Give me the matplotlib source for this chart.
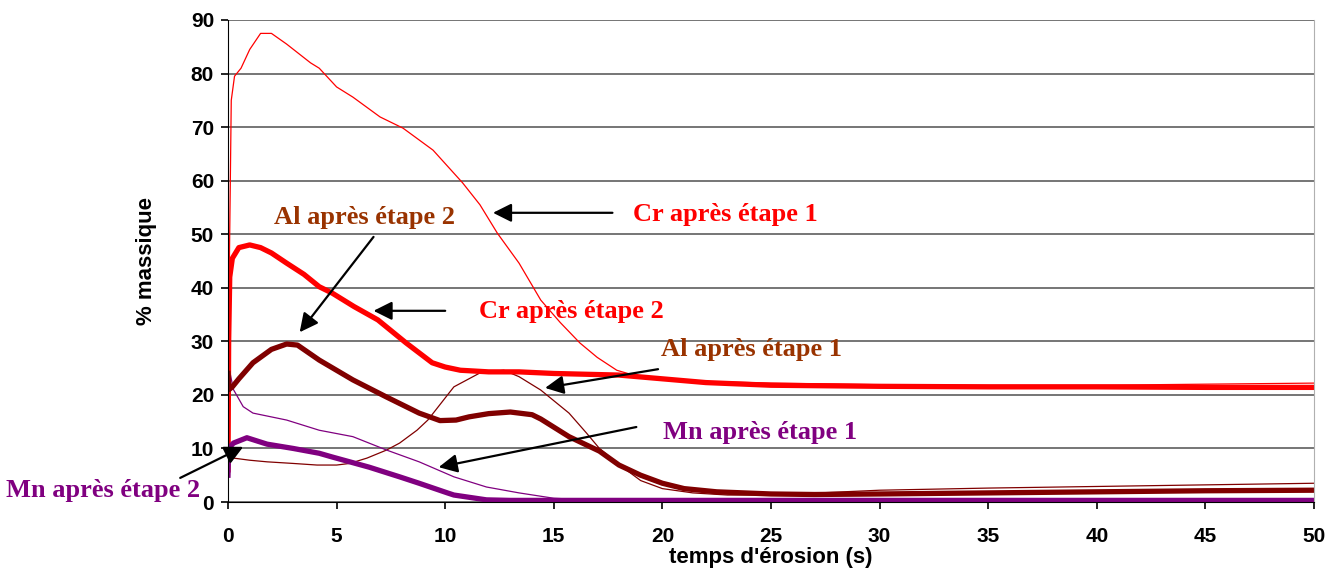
import numpy as np
import matplotlib.pyplot as plt

# courbes (temps en s, % massique)
cr1_x = [0, 0.05, 0.15, 0.3, 0.6, 1.0, 1.5, 2.0, 2.7, 3.8, 4.2, 5.0, 5.75, 7.0, 8.06, 9.44, 10.8,
         11.6, 12.4, 13.4, 14.4, 15.3, 16.2, 17.0, 17.9, 19, 20, 22, 25, 30, 35, 40, 45, 50]
cr1_y = [8, 40, 75, 79.5, 81, 84.5, 87.5, 87.5, 85.5, 82, 81, 77.5, 75.6, 71.9, 69.8, 65.7, 59.6,
         55.5, 50.2, 44.6, 37.7, 33.5, 29.7, 27, 24.6, 23.3, 22.8, 22.5, 22.2, 21.9, 21.8, 21.8, 22.0, 22.2]

cr2_x = [0, 0.03, 0.08, 0.2, 0.5, 1.0, 1.5, 2.0, 2.7, 3.5, 4.2, 4.8, 5.8, 6.9, 8.2, 9.4, 10.0,
         10.7, 12, 13.4, 15, 18, 20, 22, 25, 30, 35, 40, 45, 50]
cr2_y = [6, 30, 42, 45.5, 47.5, 48, 47.5, 46.5, 44.6, 42.5, 40.2, 39, 36.5, 34, 29.7, 26, 25.2,
         24.6, 24.3, 24.3, 24.0, 23.7, 23.0, 22.3, 21.8, 21.6, 21.5, 21.5, 21.4, 21.4]

al1_x = [0, 0.05, 0.25, 1.0, 1.8, 3, 4.1, 5, 5.6, 6.4, 7.3, 7.9, 8.7, 9.2, 10.4, 11.6, 12.7,
         13.4, 14.4, 15.7, 16.5, 17.1, 18, 19, 20, 21.4, 23, 25, 30, 35, 40, 45, 50]
al1_y = [20, 10, 8.2, 7.8, 7.5, 7.2, 6.9, 6.9, 7.2, 8.2, 9.7, 11, 13.4, 15.3, 21.5, 24.1, 24.6,
         23.4, 20.9, 16.6, 12.9, 10, 7, 4, 2.5, 1.7, 1.3, 1.3, 2.2, 2.6, 2.9, 3.2, 3.5]

al2_x = [0, 0.05, 0.2, 0.5, 1.15, 2.0, 2.7, 3.2, 4.2, 5.75, 7.3, 8.8, 9.76, 10.5, 11.1, 12, 13,
         14, 14.4, 15.7, 17.1, 18, 19, 20, 21, 22.5, 25, 27, 30, 35, 40, 45, 50]
al2_y = [24, 21, 21.5, 23, 26, 28.5, 29.5, 29.3, 26.5, 22.8, 19.6, 16.6, 15.2, 15.3, 15.9, 16.5, 16.8,
         16.3, 15.5, 12.2, 9.5, 6.9, 5.0, 3.5, 2.5, 1.9, 1.5, 1.4, 1.5, 1.7, 1.9, 2.1, 2.2]

mn1_x = [0, 0.03, 0.1, 0.25, 0.7, 1.15, 2.7, 4.2, 5.75, 7.3, 8.8, 10.4, 11.9, 13.4, 15, 16.5, 20, 30, 40, 50]
mn1_y = [10, 33, 24, 21, 17.8, 16.6, 15.3, 13.4, 12.2, 9.7, 7.5, 4.7, 2.8, 1.7, 0.7, 0.4, 0.3, 0.3, 0.3, 0.3]

mn2_x = [0, 0.03, 0.25, 0.87, 1.8, 3, 4.2, 4.8, 6.5, 7.9, 8.8, 10.1, 10.4, 11.9, 13, 15, 20, 30, 40, 50]
mn2_y = [5, 10, 11, 12, 10.8, 10, 9.1, 8.4, 6.5, 4.7, 3.5, 1.7, 1.3, 0.4, 0.3, 0.3, 0.3, 0.3, 0.3, 0.3]

red = '#FF0000'
dred = '#800000'
brown = '#993300'
purple = '#800080'

fig = plt.figure(figsize=(13.36, 5.77), dpi=100)
ax = fig.add_axes([228/1336, 1-502/577, 1086/1336, 482/577])

ax.plot(cr1_x, cr1_y, color=red, lw=0.9)
ax.plot(al1_x, al1_y, color=dred, lw=0.9)
ax.plot(mn1_x, mn1_y, color=purple, lw=0.9)
ax.plot(cr2_x, cr2_y, color=red, lw=3.8)
ax.plot(al2_x, al2_y, color=dred, lw=3.8)
ax.plot(mn2_x, mn2_y, color=purple, lw=3.8)

ax.set_xlim(0, 50)
ax.set_ylim(0, 90)
ax.set_xticks(np.arange(0, 51, 5))
ax.set_yticks(np.arange(0, 91, 10))
ax.yaxis.grid(True, color='#505050', lw=1.1)
ax.set_axisbelow(True)
ax.spines['top'].set_visible(False)
ax.spines['right'].set_color('#b0b0b0')
ax.tick_params(axis='both', direction='out', length=5, width=1.2, labelsize=15)
ax.tick_params(axis='x', pad=13)
ax.tick_params(axis='y', pad=5)
for lab in ax.get_xticklabels() + ax.get_yticklabels():
    lab.set_fontweight('bold')
    lab.set_family('Liberation Sans')

ax.set_xlabel("temps d'érosion (s)", fontsize=16, fontweight='bold', family='Liberation Sans')
ax.set_ylabel('% massique', fontsize=16, fontweight='bold', family='Liberation Sans')
ax.xaxis.set_label_coords(0.5, -0.093)
ax.yaxis.set_label_coords(-0.065, 0.5)

# annotations : texte, position du texte, départ et pointe de la flèche
notes = [
    ('Cr après étape 1', red, (22.9, 53.6), (17.7, 54), (12.2, 54)),
    ('Cr après étape 2', red, (15.8, 35.5), (10.0, 35.7), (6.7, 35.7)),
    ('Al après étape 2', brown, (6.3, 53.2), (6.7, 49.5), (3.3, 31.7)),
    ('Al après étape 1', brown, (24.1, 28.4), (19.8, 24.8), (14.6, 21.3)),
    ('Mn après étape 1', purple, (24.5, 12.9), (18.8, 14.0), (9.7, 6.5)),
    ('Mn après étape 2', purple, (-5.75, 2.2), (-2.2, 4.5), (0.7, 10.3)),
]
for txt, col, tpos, a0, a1 in notes:
    ax.annotate('', xy=a1, xytext=a0, annotation_clip=False,
                arrowprops=dict(arrowstyle='-|>', color='black', lw=1.6,
                                mutation_scale=28, shrinkA=0, shrinkB=0))
    ax.text(tpos[0], tpos[1], txt, color=col, fontsize=19, fontweight='bold',
            family='Liberation Serif', ha='center', va='center', clip_on=False)

fig.savefig('out.png', dpi=100)
